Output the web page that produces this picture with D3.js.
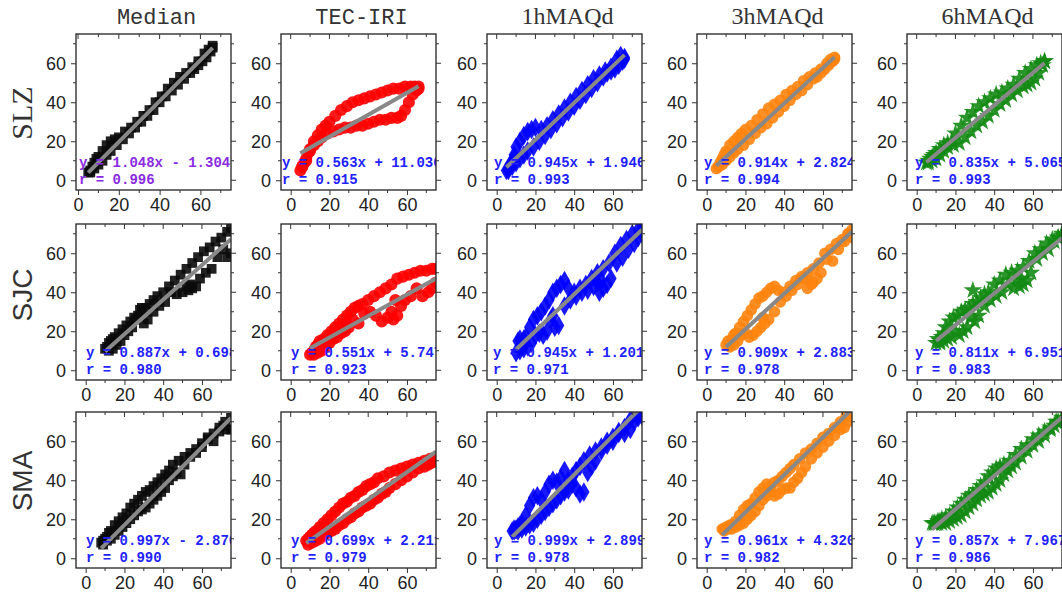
<!DOCTYPE html>
<html>
<head>
<meta charset="utf-8">
<script src="https://cdn.jsdelivr.net/npm/d3@7"></script>
<style>
  body { margin: 0; background: #fff; }
  svg { display: block; }
</style>
</head>
<body>
<script>
const W = 1062, H = 597;

const models = ["Median", "TEC-IRI", "1hMAQd", "3hMAQd", "6hMAQd"];
const stations = ["SLZ", "SJC", "SMA"];
const tickValues = [0, 20, 40, 60];
const minorValues = [10, 30, 50, 70];

// observed TEC (x) per station, in time order
const slzX = [5,6,7,8,9,10,12,14,16,18,20,23,26,29,32,35,38,41,44,47,50,53,56,59,62,64,66,
              66,65,63,61,59,57,55,52,49,46,43,40,37,34,31,28,25,22,19,16,14,12,10,8,6];
const sjcX = [10,11,12,13,14,15,17,19,21,23,25,27,29,31,33,35,37,40,43,46,49,52,55,58,61,64,67,70,73,75,
              75,73,71,68,65,62,59,57,55,54,53,52,50,47,44,41,38,35,32,30,29,28,26,24,22,20,18,16,14,12];
const smaX = [8,9,10,11,12,13,15,17,19,21,23,25,27,29,31,33,35,37,39,41,43,45,48,51,54,57,60,63,66,69,72,75,
              75,73,71,69,66,63,60,57,54,51,49,47,45,43,41,39,37,35,33,31,29,27,25,23,21,19,17,15,13,11,9];

// modelled TEC (y) per station and model
const slzMedian = [4,5,7,9,11,12,15,18,20,21,22,25,27,30,33,36,40,43,47,50,53,55,58,61,65,67,69,
                   68,66,63,61,59,57,55,52,49,46,43,40,36,33,30,27,24,21,18,15,13,10,8,6,4];
const slzIri    = [5,7,9,11,14,16,20,23,26,28,30,33,36,38,40,41,42,43,44,45,46,47,47,48,48,48,48,
                   47,46,44,40,36,33,32,32,31,31,30,29,28,28,27,27,26,25,24,22,20,18,15,10,7];
const slz1h     = [5,6,8,10,13,17,20,23,25,26,27,26,28,31,34,37,40,43,46,49,52,54,56,58,62,64,63,
                   62,61,59,57,56,55,53,50,47,44,41,38,35,32,29,26,23,20,17,15,13,11,9,7,5];
const slz3h     = [6,7,9,11,13,15,18,20,22,24,26,28,31,34,37,39,41,44,46,48,51,53,55,57,60,62,63,
                   62,61,59,57,55,53,52,49,46,44,41,38,35,32,29,27,24,21,18,16,14,12,10,8,7];
const slz6h     = [9,10,11,12,13,14,16,18,19,20,24,28,32,35,38,40,42,44,45,47,49,52,55,57,59,60,61,
                   61,59,55,52,50,49,48,46,44,41,39,36,33,30,28,25,22,19,18,17,15,13,11,10,9];

const sjcMedian = [11,12,14,15,16,17,19,21,23,25,27,28,30,32,34,36,38,40,43,46,49,52,55,58,61,63,66,68,71,73,
                   60,58,62,58,52,50,47,43,42,44,41,43,40,39,40,35,33,30,26,24,32,31,26,22,20,18,15,13,11,10];
const sjcIri    = [8,9,10,12,13,15,16,18,20,22,24,26,28,30,32,33,34,36,38,40,42,44,47,48,49,50,51,51,52,52,
                   45,42,40,38,42,38,36,33,28,36,26,30,27,25,28,30,29,24,26,22,24,20,19,17,16,14,12,10,9,8];
const sjc1h     = [9,15,16,14,16,17,22,26,28,30,33,36,40,42,44,46,42,40,42,44,47,50,52,55,60,64,67,70,72,73,
                   70,68,65,62,58,55,47,44,42,46,40,45,43,41,40,38,36,33,23,22,28,26,20,18,19,18,14,12,11,10];
const sjc3h     = [13,15,14,16,18,19,22,25,28,31,34,37,38,40,42,43,41,40,43,46,48,50,52,55,60,62,65,67,70,72,
                   68,70,66,62,56,57,50,47,45,44,46,42,47,44,41,38,35,30,26,24,27,22,20,18,17,19,18,15,13,12];
const sjc6h     = [14,16,15,17,19,22,25,27,28,30,31,32,34,35,37,39,40,44,46,49,50,51,53,56,60,62,65,67,68,69,
                   70,68,66,62,60,57,50,46,44,47,43,46,42,44,40,38,36,33,28,25,41,27,22,20,18,20,17,16,15,14];

const smaMedian = [8,9,10,11,13,14,17,19,21,23,26,28,30,32,34,35,37,39,41,43,45,48,50,52,54,56,59,62,64,67,70,72,
                   66,66,68,65,60,61,57,54,52,48,43,44,42,40,36,34,32,30,28,26,25,24,22,20,18,16,14,12,10,9,7];
const smaIri    = [9,10,11,12,13,14,16,18,20,22,24,26,28,29,31,32,34,35,37,38,39,41,42,44,45,46,47,48,49,50,51,52,
                   50,49,48,47,46,44,42,40,38,36,34,33,31,30,28,27,26,24,23,21,20,18,17,15,14,13,12,10,9,8,7];
const sma1h     = [14,15,15,16,17,18,22,27,31,32,30,34,38,40,39,41,45,40,42,45,47,50,53,55,57,60,62,64,67,71,74,75,
                   73,72,70,66,64,65,60,58,55,50,47,44,34,33,36,38,35,34,32,30,28,26,24,22,20,18,17,16,15,14,14];
const sma3h     = [15,15,16,16,17,17,19,22,25,27,28,31,34,36,38,37,39,40,42,44,46,48,51,54,56,59,62,64,67,70,73,74,
                   72,70,67,66,63,60,57,54,51,47,44,41,39,36,36,35,33,32,34,32,30,27,24,22,20,18,17,16,15,15,14];
const sma6h     = [18,18,18,19,19,20,21,22,24,26,28,30,32,33,35,37,39,42,44,46,47,48,50,53,56,58,61,63,65,67,70,72,
                   71,70,68,66,63,60,58,55,52,49,47,45,43,40,38,36,34,33,32,30,28,26,24,22,21,20,19,18,18,18,18];

// linear fit y = a x + b and correlation r, per station (one entry per model)
const slzSlope = [1.048, 0.563, 0.945, 0.914, 0.835];
const slzIntercept = [-1.304, 11.030, 1.946, 2.824, 5.065];
const slzR = [0.996, 0.915, 0.993, 0.994, 0.993];
const sjcSlope = [0.887, 0.551, 0.945, 0.909, 0.811];
const sjcIntercept = [0.698, 5.747, 1.201, 2.883, 6.951];
const sjcR = [0.980, 0.923, 0.971, 0.978, 0.983];
const smaSlope = [0.997, 0.699, 0.999, 0.961, 0.857];
const smaIntercept = [-2.870, 2.211, 2.899, 4.320, 7.967];
const smaR = [0.990, 0.979, 0.978, 0.982, 0.986];

const rows = [
  {x: slzX, ys: [slzMedian, slzIri, slz1h, slz3h, slz6h], a: slzSlope, b: slzIntercept, r: slzR},
  {x: sjcX, ys: [sjcMedian, sjcIri, sjc1h, sjc3h, sjc6h], a: sjcSlope, b: sjcIntercept, r: sjcR},
  {x: smaX, ys: [smaMedian, smaIri, sma1h, sma3h, sma6h], a: smaSlope, b: smaIntercept, r: smaR}
];

// styling / layout
const colLeft = [76, 281, 487, 697, 907];
const rowTop = [34, 224, 412];
const pw = 155, ph = 156;
const colors = ["#0a0a0a", "#ff0000", "#0000ff", "#ff8410", "#138a13"];
const symbols = [d3.symbolSquare, d3.symbolCircle, d3.symbolDiamond, d3.symbolCircle, d3.symbolStar];
const symSize = [95, 115, 110, 105, 105];
const labelDx = [[3, 1, 7, 7, 8], [10, 10, 6, 7, 8], [10, 10, 7, 7, 8]];
const rowLabelY = [113, 295, 481];
const rowLabelFont = ["Liberation Serif", "Liberation Sans", "Liberation Sans"];

const svg = d3.select("body").append("svg")
    .attr("width", W)
    .attr("height", H);

// column titles
svg.selectAll("text.title")
    .data(models)
    .enter()
    .append("text")
    .attr("class", "title")
    .attr("x", (d, i) => colLeft[i] + pw / 2 + 3)
    .attr("y", 24)
    .attr("text-anchor", "middle")
    .attr("font-family", (d, i) => i < 2 ? "Liberation Mono" : "Liberation Serif")
    .attr("font-size", (d, i) => i < 2 ? 22 : 24)
    .attr("fill", "#333")
    .text(d => d);

// row labels
svg.selectAll("text.station")
    .data(stations)
    .enter()
    .append("text")
    .attr("class", "station")
    .attr("transform", (d, i) => "translate(32," + rowLabelY[i] + ") rotate(-90)")
    .attr("text-anchor", "middle")
    .attr("font-family", (d, i) => rowLabelFont[i])
    .attr("font-size", (d, i) => i == 0 ? 30 : 28)
    .attr("fill", "#333")
    .text(d => d);

rows.forEach(function(row, ri) {
  row.ys.forEach(function(ys, ci) {
    const x0 = colLeft[ci], y0 = rowTop[ri];
    const g = svg.append("g").attr("transform", "translate(" + x0 + "," + y0 + ")");

    const xScale = d3.scaleLinear()
        .domain([ri == 0 && ci == 0 ? -1 : -5, 75])
        .range([0, pw]);
    const yScale = d3.scaleLinear()
        .domain([-5, 75])
        .range([ph, 0]);

    const clipId = "clip" + ri + "_" + ci;
    g.append("clipPath").attr("id", clipId)
      .append("rect").attr("width", pw).attr("height", ph);

    const inner = g.append("g").attr("clip-path", "url(#" + clipId + ")");

    const pts = row.x.map((v, k) => [v, ys[k]]);
    const sym = d3.symbol().type(symbols[ci]).size(symSize[ci]);

    inner.selectAll("path.pt")
        .data(pts)
        .enter()
        .append("path")
        .attr("class", "pt")
        .attr("d", sym)
        .attr("transform", d => "translate(" + xScale(d[0]) + "," + yScale(d[1]) + ")")
        .attr("fill", colors[ci])
        .attr("opacity", 0.9);

    // regression line
    const a = row.a[ci], b = row.b[ci];
    const xmin = d3.min(row.x), xmax = d3.max(row.x);
    inner.append("line")
        .attr("x1", xScale(xmin))
        .attr("y1", yScale(a * xmin + b))
        .attr("x2", xScale(xmax))
        .attr("y2", yScale(a * xmax + b))
        .attr("stroke", "#888")
        .attr("stroke-width", 4);

    // fit text (clipped at the frame like the original)
    const eq = "y = " + a.toFixed(3) + "x " + (b < 0 ? "- " : "+ ") + Math.abs(b).toFixed(3);
    const txtColor = (ri == 0 && ci == 0) ? "#8a2be2" : "#2222ff";
    inner.append("text")
        .attr("x", labelDx[ri][ci])
        .attr("y", 133)
        .attr("font-family", "Liberation Mono")
        .attr("font-weight", "bold")
        .attr("font-size", 14)
        .attr("fill", txtColor)
        .text(eq);
    inner.append("text")
        .attr("x", labelDx[ri][ci])
        .attr("y", 150)
        .attr("font-family", "Liberation Mono")
        .attr("font-weight", "bold")
        .attr("font-size", 14)
        .attr("fill", txtColor)
        .text("r = " + row.r[ci].toFixed(3));

    // frame
    g.append("rect")
        .attr("width", pw)
        .attr("height", ph)
        .attr("fill", "none")
        .attr("stroke", "#222")
        .attr("stroke-width", 1.3);

    // axes
    const leftAx = d3.axisLeft(yScale).tickValues(tickValues).tickSize(5).tickPadding(5);
    const bottomAx = d3.axisBottom(xScale).tickValues(tickValues).tickSize(5).tickPadding(3);

    const gl = g.append("g").call(leftAx);
    const gb = g.append("g").attr("transform", "translate(0," + ph + ")").call(bottomAx);
    [gl, gb].forEach(function(ax) {
      ax.select(".domain").remove();
      ax.selectAll("line").attr("stroke", "#333");
      ax.selectAll("text")
        .attr("font-family", "Liberation Sans")
        .attr("font-size", 18)
        .attr("fill", "#222");
    });

    // minor ticks left/bottom, all ticks right (out) and top (in)
    g.selectAll("line.ml").data(minorValues).enter().append("line")
        .attr("x1", 0).attr("x2", -3)
        .attr("y1", d => yScale(d)).attr("y2", d => yScale(d))
        .attr("stroke", "#333");
    g.selectAll("line.mb").data(minorValues).enter().append("line")
        .attr("y1", ph).attr("y2", ph + 3)
        .attr("x1", d => xScale(d)).attr("x2", d => xScale(d))
        .attr("stroke", "#333");
    g.selectAll("line.rt").data(tickValues.concat(minorValues)).enter().append("line")
        .attr("x1", pw).attr("x2", d => pw + (d % 20 == 0 ? 5 : 3))
        .attr("y1", d => yScale(d)).attr("y2", d => yScale(d))
        .attr("stroke", "#333");
    g.selectAll("line.tp").data(tickValues.concat(minorValues)).enter().append("line")
        .attr("y1", 0).attr("y2", d => d % 20 == 0 ? 5 : 3)
        .attr("x1", d => xScale(d)).attr("x2", d => xScale(d))
        .attr("stroke", "#333");
  });
});
</script>
</body>
</html>
